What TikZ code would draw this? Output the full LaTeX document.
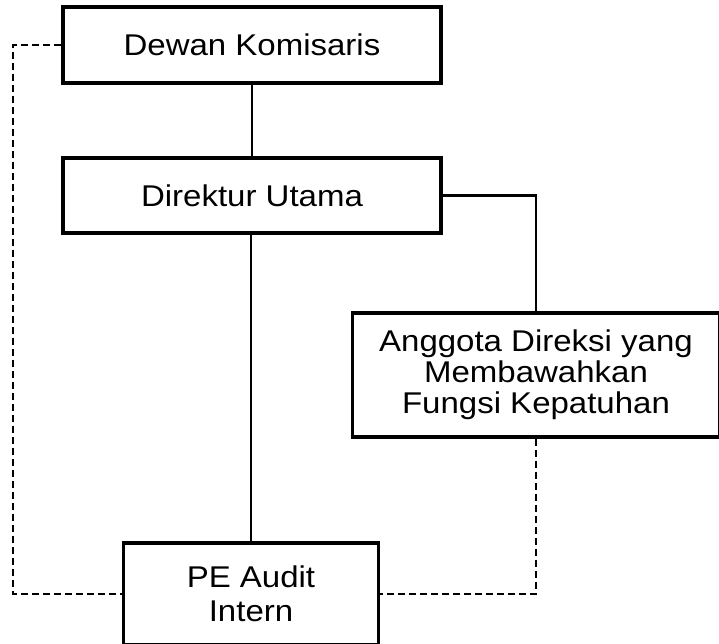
\documentclass[tikz,border=0pt]{standalone}
\usepackage{fontspec}
\setmainfont[FakeStretch=1.1]{Liberation Sans}
\usepackage{tikz}
\usetikzlibrary{positioning,calc}
\tikzset{
  unit/.style={draw,line width=3.5pt,align=center,inner sep=0pt,font=\fontsize{30}{31}\selectfont},
  link/.style={line width=2.2pt},
  dashlink/.style={line width=2.2pt,dash pattern=on 7pt off 4pt},
}

\begin{document}
\begin{tikzpicture}[x=1pt,y=-1pt]

  \clip (0,0) rectangle (719,643);

  \node[unit,minimum width=378pt,minimum height=76pt] (dewan) at (252,45) {Dewan Komisaris};
  \node[unit,minimum width=378pt,minimum height=75pt] (dirut) at (252,195.5) {Direktur Utama};
  \node[unit,minimum width=367pt,minimum height=124pt] (anggota) at (536,375) {Anggota Direksi yang\\Membawahkan\\Fungsi Kepatuhan};
  \node[unit,minimum width=255pt,minimum height=102pt,font=\fontsize{30}{34}\selectfont] (pe) at (251,594) {PE Audit\\Intern};

  % garis komando
  \draw[link] (dewan) -- (dirut);
  \draw[link] (dirut.south -| pe.north) -- (pe.north);
  \draw[link] (dirut.east) -| (anggota.north);

  % garis koordinasi
  \draw[dashlink] (dewan.west) -- ++(-48,0) |- (pe.west);
  \draw[dashlink] (anggota.south) |- (pe.east);

\end{tikzpicture}
\end{document}
